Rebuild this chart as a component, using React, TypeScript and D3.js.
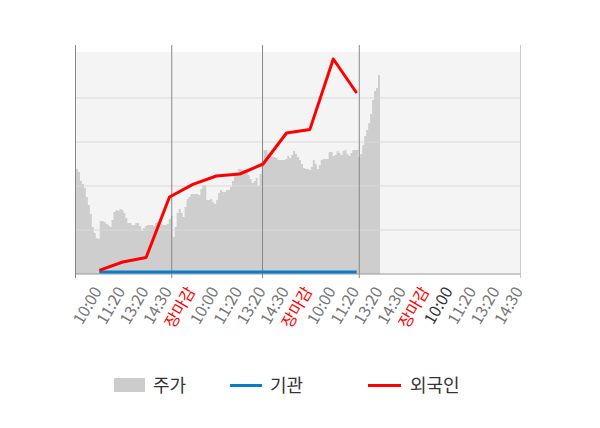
import React from 'react';
import * as d3 from 'd3';

// x-axis labels (slot 1..19, slot 0 is the empty left edge)
const timeLabels = [
  '10:00', '11:20', '13:20', '14:30', '장마감',
  '10:00', '11:20', '13:20', '14:30', '장마감',
  '10:00', '11:20', '13:20', '14:30', '장마감',
  '10:00', '11:20', '13:20', '14:30',
];

const price = [
  105, 102, 93, 90, 86, 77, 69, 60, 47, 41, 36, 35, 53, 53, 52, 50, 49, 47, 54, 62,
  64, 63, 65, 64, 61, 56, 51, 51, 49, 49, 51, 51, 48, 43, 46, 48, 49, 49, 49, 48,
  51, 52, 52, 50, 49, 49, 50, 55, 58, 37, 47, 61, 65, 61, 57, 67, 75, 77, 80, 80,
  80, 80, 79, 85, 89, 89, 74, 74, 75, 72, 70, 74, 81, 84, 82, 82, 84, 84, 87, 93,
  100, 102, 105, 105, 104, 104, 103, 99, 95, 91, 93, 96, 88, 100, 109, 124, 124, 120, 118, 117,
  117, 116, 114, 114, 114, 114, 115, 118, 116, 119, 123, 120, 117, 114, 110, 106, 105, 105, 104, 107,
  114, 110, 105, 109, 114, 115, 115, 115, 122, 122, 118, 119, 123, 121, 119, 123, 124, 120, 118, 121,
  124, 124, 124, 117, 120, 129, 138, 144, 151, 160, 174, 183, 186, 199,
];

// index in price[] where each new trading day starts
const dayStarts = [49, 95, 144];

// investor net buying, slots 1..12
const institution = [2, 2, 2, 2, 2, 2, 2, 2, 2, 2, 2, 2];
const foreigner = [3.6, 12, 16.5, 77, 89.6, 98, 100, 110, 141, 144.6, 215, 181];

const gridValues = [44, 88, 132, 176];

const W = 600;
const H = 428;
const LEFT = 75.5;
const RIGHT = 520.5;
const TOP = 45;
const BG_TOP = 52;
const BOTTOM = 274;
const FONT = '"Noto Sans CJK KR", "Noto Sans", sans-serif';

export default function App() {
  const y = d3.scaleLinear().domain([0, 220]).range([BOTTOM, 54]);
  const xSlot = d3.scaleLinear().domain([0, 19]).range([LEFT + 0.4, RIGHT]);
  const xPrice = d3.scaleLinear().domain([0, price.length]).range([76, 380]);

  const area = d3.area<number>()
    .x((_, i) => xPrice(i))
    .y0(BOTTOM)
    .y1(d => y(d))
    .curve(d3.curveStepAfter);

  const line = d3.line<number>()
    .x((_, i) => xSlot(i + 1))
    .y(d => y(d));

  // repeat last value so the final step gets its width
  const priceSteps = [...price, price[price.length - 1]];

  return (
    <div style={{ position: 'fixed', left: 0, top: 0 }}>
      <svg width={W} height={H} style={{ display: 'block', fontFamily: FONT }}>
        <rect x={0} y={0} width={W} height={H} fill="#fff" />
        <rect x={LEFT} y={BG_TOP} width={RIGHT - LEFT} height={BOTTOM - BG_TOP} fill="#f4f4f4" />

        <path d={area(priceSteps) ?? ''} fill="#cecece" />

        {gridValues.map(v => (
          <line key={v} x1={LEFT} x2={RIGHT} y1={y(v)} y2={y(v)} stroke="#d9d9d9" strokeWidth={1} />
        ))}

        {/* frame + day separators */}
        <line x1={RIGHT} x2={RIGHT} y1={TOP} y2={BOTTOM + 4} stroke="#cccccc" strokeWidth={1} />
        <line x1={LEFT} x2={LEFT} y1={TOP} y2={BOTTOM + 4} stroke="#888" strokeWidth={1} />
        {dayStarts.map(d => (
          <line key={d} x1={xPrice(d - 0.5)} x2={xPrice(d - 0.5)} y1={TOP} y2={BOTTOM + 4}
            stroke="#888" strokeWidth={1} />
        ))}
        <line x1={LEFT} x2={RIGHT} y1={BOTTOM} y2={BOTTOM} stroke="#999" strokeWidth={1} />

        <path d={line(institution) ?? ''} fill="none" stroke="#0a7dc9" strokeWidth={3} />
        <path d={line(foreigner) ?? ''} fill="none" stroke="#ff0000" strokeWidth={3}
          strokeLinejoin="round" />

        {timeLabels.map((t, i) => {
          const x = xSlot(i + 1) + 3;
          const color = t === '장마감' ? '#ff0000' : i === 15 ? '#333' : '#777';
          return (
            <text key={i} transform={`translate(${x},291) rotate(-60)`} textAnchor="end"
              fontSize={16} fill={color}>{t}</text>
          );
        })}

        {/* legend */}
        <g fontSize={18} fill="#333">
          <rect x={114} y={378} width={31} height={14} fill="#cccccc" />
          <text x={153} y={392}>주가</text>
          <line x1={230} x2={262} y1={385.5} y2={385.5} stroke="#0a7dc9" strokeWidth={3} />
          <text x={270} y={392}>기관</text>
          <line x1={368} x2={401} y1={385.5} y2={385.5} stroke="#ff0000" strokeWidth={3} />
          <text x={410} y={392}>외국인</text>
        </g>
      </svg>
    </div>
  );
}
